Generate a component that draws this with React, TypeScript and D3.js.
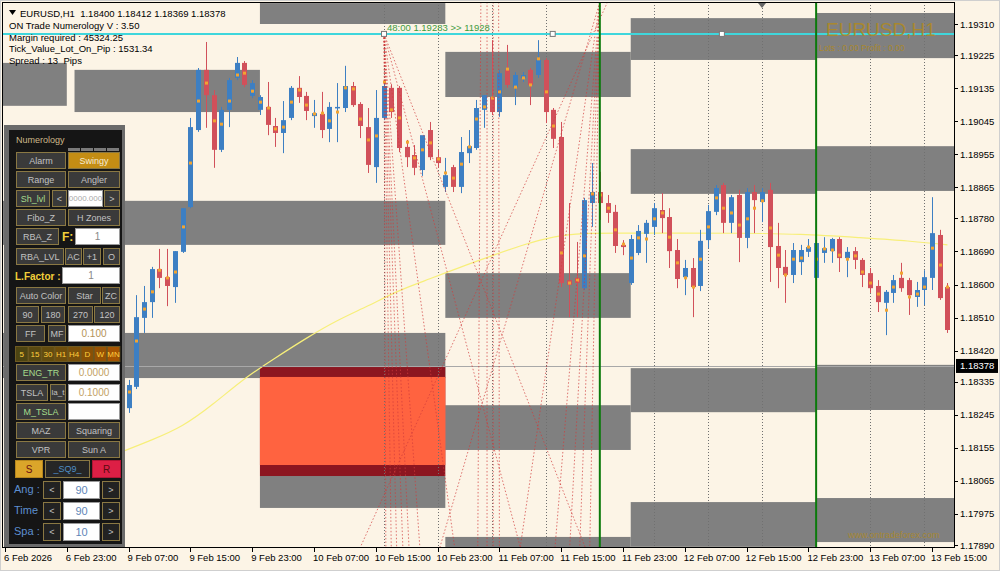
import React from "react";
import * as d3 from "d3";

// ---------- DATA ----------
const firstBar = 15;
const opens = [
  1.17991, 1.18263, 1.18321, 1.18509, 1.18552, 1.18642, 1.18620, 1.18593, 1.18689, 1.18811,
  1.19021, 1.19185, 1.19116, 1.18967, 1.19076, 1.19163, 1.19204, 1.19114, 1.19076, 1.19084,
  1.19032, 1.19013, 1.19054, 1.19136, 1.19114, 1.19059, 1.19065, 1.19024, 1.19081, 1.19081,
  1.19141, 1.19092, 1.19029, 1.18920, 1.19054, 1.19136, 1.19136, 1.18975, 1.18953, 1.18912,
  1.19021, 1.18947, 1.18866, 1.18920, 1.18866, 1.18958, 1.18972, 1.19076, 1.19111, 1.19070,
  1.19185, 1.19138, 1.19163, 1.19185, 1.19171, 1.19212, 1.19076, 1.19002, 1.18612, 1.18618,
  1.18590, 1.18822, 1.18852, 1.18822, 1.18798, 1.18708, 1.18604, 1.18686, 1.18738, 1.18757,
  1.18803, 1.18784, 1.18694, 1.18620, 1.18645, 1.18596, 1.18721, 1.18798, 1.18871, 1.18768,
  1.18844, 1.18727, 1.18852, 1.18825, 1.18858, 1.18705, 1.18648, 1.18626, 1.18661, 1.18689,
  1.18618, 1.18686, 1.18691, 1.18724, 1.18672, 1.18691, 1.18667, 1.18631, 1.18596, 1.18550,
  1.18577, 1.18618, 1.18612, 1.18566, 1.18585, 1.18618, 1.18735, 1.18593,
];
const highs = [
  1.18116, 1.18340, 1.18571, 1.18596, 1.18648, 1.18697, 1.18697, 1.18691, 1.18808, 1.19054,
  1.19190, 1.19261, 1.19130, 1.19084, 1.19163, 1.19220, 1.19209, 1.19157, 1.19116, 1.19152,
  1.19054, 1.19100, 1.19141, 1.19168, 1.19125, 1.19103, 1.19125, 1.19097, 1.19149, 1.19196,
  1.19152, 1.19097, 1.19081, 1.19130, 1.19152, 1.19146, 1.19141, 1.18994, 1.18980, 1.18994,
  1.19043, 1.18967, 1.18945, 1.18926, 1.19002, 1.19021, 1.19103, 1.19116, 1.19266, 1.19185,
  1.19253, 1.19179, 1.19179, 1.19190, 1.19266, 1.19217, 1.19081, 1.19043, 1.18822, 1.18716,
  1.18836, 1.18931, 1.18907, 1.18844, 1.18817, 1.18721, 1.18735, 1.18762, 1.18776, 1.18822,
  1.18849, 1.18808, 1.18724, 1.18667, 1.18672, 1.18749, 1.18817, 1.18871, 1.18877, 1.18844,
  1.18858, 1.18863, 1.18871, 1.18863, 1.18877, 1.18768, 1.18694, 1.18713, 1.18708, 1.18724,
  1.18721, 1.18729, 1.18727, 1.18729, 1.18702, 1.18702, 1.18672, 1.18645, 1.18612, 1.18585,
  1.18626, 1.18659, 1.18618, 1.18607, 1.18639, 1.18838, 1.18749, 1.18604,
];
const lows = [
  1.17980, 1.18250, 1.18315, 1.18468, 1.18509, 1.18590, 1.18541, 1.18550, 1.18686, 1.18808,
  1.19016, 1.19027, 1.18918, 1.18961, 1.19029, 1.19157, 1.19138, 1.19108, 1.19062, 1.19007,
  1.18975, 1.18958, 1.19048, 1.19095, 1.19048, 1.19027, 1.18999, 1.18988, 1.18988, 1.19070,
  1.19084, 1.18999, 1.18904, 1.18877, 1.19048, 1.19054, 1.18961, 1.18920, 1.18898, 1.18896,
  1.18939, 1.18918, 1.18852, 1.18852, 1.18849, 1.18931, 1.18967, 1.19027, 1.19062, 1.19057,
  1.19136, 1.19089, 1.19152, 1.19089, 1.19163, 1.19040, 1.18972, 1.18593, 1.18511, 1.18511,
  1.18585, 1.18757, 1.18776, 1.18768, 1.18686, 1.18680, 1.18599, 1.18680, 1.18659, 1.18735,
  1.18740, 1.18645, 1.18590, 1.18571, 1.18511, 1.18582, 1.18699, 1.18789, 1.18740, 1.18740,
  1.18661, 1.18699, 1.18740, 1.18770, 1.18607, 1.18590, 1.18550, 1.18604, 1.18626, 1.18675,
  1.18612, 1.18659, 1.18659, 1.18634, 1.18620, 1.18642, 1.18593, 1.18577, 1.18525, 1.18462,
  1.18550, 1.18580, 1.18517, 1.18539, 1.18544, 1.18585, 1.18558, 1.18468,
];
const closes = [
  1.18094, 1.18326, 1.18511, 1.18552, 1.18642, 1.18618, 1.18596, 1.18691, 1.18808, 1.19029,
  1.19185, 1.19116, 1.18967, 1.19076, 1.19157, 1.19204, 1.19144, 1.19149, 1.19111, 1.19035,
  1.19013, 1.19048, 1.19136, 1.19111, 1.19073, 1.19067, 1.19021, 1.19084, 1.19084, 1.19141,
  1.19089, 1.19032, 1.18926, 1.19054, 1.19141, 1.19070, 1.18972, 1.18947, 1.18918, 1.19007,
  1.18947, 1.18931, 1.18898, 1.18866, 1.18961, 1.18977, 1.19081, 1.19116, 1.19070, 1.19176,
  1.19144, 1.19171, 1.19171, 1.19144, 1.19212, 1.19070, 1.18997, 1.18604, 1.18599, 1.18604,
  1.18830, 1.18852, 1.18822, 1.18795, 1.18705, 1.18702, 1.18724, 1.18746, 1.18768, 1.18808,
  1.18781, 1.18691, 1.18615, 1.18645, 1.18593, 1.18719, 1.18800, 1.18863, 1.18768, 1.18838,
  1.18727, 1.18852, 1.18830, 1.18852, 1.18702, 1.18645, 1.18626, 1.18694, 1.18694, 1.18702,
  1.18713, 1.18699, 1.18724, 1.18672, 1.18689, 1.18667, 1.18626, 1.18590, 1.18552, 1.18580,
  1.18612, 1.18590, 1.18571, 1.18585, 1.18620, 1.18740, 1.18563, 1.18476,
];
const markers = [
  1.18040, 1.18307, 1.18446, 1.18533, 1.18580, 1.18639, 1.18618, 1.18634, 1.18757, 1.18931,
  1.19100, 1.19149, 1.19046, 1.19037, 1.19100, 1.19171, 1.19176, 1.19127, 1.19097, 1.19081,
  1.19024, 1.19029, 1.19097, 1.19130, 1.19089, 1.19065, 1.19067, 1.19046, 1.19070, 1.19136,
  1.19133, 1.19051, 1.18994, 1.19005, 1.19152, 1.19076, 1.19054, 1.18988, 1.18945, 1.18967,
  1.18986, 1.18942, 1.18904, 1.18890, 1.18928, 1.18975, 1.19051, 1.19084, 1.19108, 1.19125,
  1.19187, 1.19138, 1.19163, 1.19144, 1.19215, 1.19125, 1.19032, 1.18686, 1.18604, 1.18612,
  1.18678, 1.18847, 1.18844, 1.18808, 1.18749, 1.18710, 1.18672, 1.18727, 1.18724, 1.18779,
  1.18795, 1.18729, 1.18659, 1.18618, 1.18593, 1.18669, 1.18757, 1.18836, 1.18808, 1.18795,
  1.18762, 1.18779, 1.18808, 1.18828, 1.18754, 1.18680, 1.18626, 1.18669, 1.18672, 1.18702,
  1.18669, 1.18697, 1.18694, 1.18680, 1.18669, 1.18678, 1.18634, 1.18604, 1.18574, 1.18530,
  1.18593, 1.18631, 1.18566, 1.18574, 1.18593, 1.18699, 1.18653, 1.18593,
];

// moving average (bar index, value)
const maBars = [15, 19, 23, 27, 31, 35, 39, 43, 47, 51, 55, 59, 63, 67, 71, 75, 79, 87, 95, 103, 111, 117, 122];
const maValues = [
  1.18143, 1.18176, 1.18212, 1.18274, 1.18345, 1.18400, 1.18454, 1.18503, 1.18541, 1.18585,
  1.18615, 1.18648, 1.18678, 1.18708, 1.18732, 1.18740, 1.18740, 1.18740, 1.18740, 1.18738,
  1.18727, 1.18719, 1.18708,
];

// price zones: [startBar, endBar, top, bottom]
const grayZones: number[][] = [
  [-0.4, 8, 1.19204, 1.19087],
  [9, 33, 1.19185, 1.19070],
  [33, 57, 1.19367, 1.19310],
  [57, 81, 1.19234, 1.19111],
  [81, 105, 1.19326, 1.19212],
  [105, 124, 1.19340, 1.19217],
  [-0.4, 57, 1.18828, 1.18708],
  [57, 81, 1.18631, 1.18509],
  [81, 105, 1.18969, 1.18847],
  [105, 124, 1.18977, 1.18855],
  [-0.4, 57, 1.18468, 1.18345],
  [33, 57, 1.18078, 1.17991],
  [57, 81, 1.18271, 1.18149],
  [81, 105, 1.18372, 1.18252],
  [105, 124, 1.18381, 1.18258],
  [57, 81, 1.17912, 1.17850],
  [81, 105, 1.18007, 1.17885],
  [105, 124, 1.18018, 1.17898],
];
const redZoneOuter = [33, 57, 1.18375, 1.18078];
const redZoneInner = [33, 57, 1.18348, 1.18108];

// angle lines [bar1, price1, bar2, price2]
const angleLines: number[][] = [
  [49.06, 1.19283, 49.3, 1.17884],
  [49.06, 1.19283, 50.0, 1.17884],
  [49.06, 1.19283, 50.7, 1.17884],
  [49.06, 1.19283, 51.5, 1.17884],
  [49.06, 1.19283, 52.3, 1.17884],
  [49.06, 1.19283, 53.7, 1.17884],
  [49.06, 1.19283, 58.2, 1.17884],
  [49.06, 1.19283, 66.7, 1.17884],
  [49.06, 1.19283, 75.1, 1.17884],
  [77.0, 1.19370, 75.7, 1.17884],
  [77.0, 1.19370, 74.4, 1.17884],
  [77.0, 1.19370, 73.1, 1.17884],
  [77.0, 1.19370, 71.2, 1.17884],
  [77.0, 1.19370, 66.7, 1.17884],
  [77.0, 1.19370, 56.3, 1.17884],
  [78.0, 1.19370, 46.0, 1.17884],
  [61.6, 1.19370, 61.2, 1.17884],
  [62.4, 1.19370, 62.4, 1.17884],
  [63.2, 1.19370, 63.2, 1.17884],
  [63.9, 1.19370, 64.0, 1.17884],
];

const levelPrice = 1.19283;
const levelHandles = [49.06, 70.9, 92.8];
const currentPrice = 1.18378;
const dottedBars = [49, 56, 63, 70, 84, 91, 98, 112, 119];
const greenBars = [77, 105];

const timeTickBars = [0, 8, 16, 24, 32, 40, 48, 56, 64, 72, 80, 88, 96, 104, 112, 120];
const timeTickLabels = [
  "6 Feb 2026", "6 Feb 23:00", "9 Feb 07:00", "9 Feb 15:00", "9 Feb 23:00", "10 Feb 07:00",
  "10 Feb 15:00", "10 Feb 23:00", "11 Feb 07:00", "11 Feb 15:00", "11 Feb 23:00", "12 Feb 07:00",
  "12 Feb 15:00", "12 Feb 23:00", "13 Feb 07:00", "13 Feb 15:00",
];
const priceTicks = [
  1.19310, 1.19225, 1.19135, 1.19045, 1.18955, 1.18865, 1.18780, 1.18690, 1.18600,
  1.18510, 1.18420, 1.18335, 1.18245, 1.18155, 1.18065, 1.17975, 1.17890,
];

const infoLines = [
  "ON Trade Numerology V : 3.50",
  "Margin required : 45324.25",
  "Tick_Value_Lot_On_Pip : 1531.34",
  "Spread : 13  Pips",
];
const tfLabels = ["5", "15", "30", "H1", "H4", "D", "W", "MN"];

// ---------- STYLE ----------
const FONT = "'Liberation Sans', Arial, sans-serif";
const BG = "#FCF4E6";
const BULL = "#3D7FC3";
const BEAR = "#D1505A";
const DOT = "#F2A431";
const ZONE = "#808080";

type BtnProps = {
  x: number; y: number; w: number; h?: number; label: string;
  fill?: string; stroke?: string; color?: string; fs?: number; bold?: boolean;
};
function Btn({ x, y, w, h = 16, label, fill = "#3a3a3a", stroke = "#8a7843", color = "#c2c2c2", fs = 9, bold = false }: BtnProps) {
  return (
    <g>
      <rect x={x + 0.5} y={y + 0.5} width={w} height={h} fill={fill} stroke={stroke} strokeWidth={1} />
      <text x={x + w / 2 + 0.5} y={y + h / 2 + fs * 0.36 + 0.5} textAnchor="middle" fontSize={fs}
        fill={color} fontWeight={bold ? "bold" : "normal"}>{label}</text>
    </g>
  );
}
function Input({ x, y, w, h = 16, value, color = "#888", fs = 10 }: { x: number; y: number; w: number; h?: number; value: string; color?: string; fs?: number }) {
  return (
    <g>
      <rect x={x + 0.5} y={y + 0.5} width={w} height={h} fill="#ffffff" stroke="#9a9a9a" />
      <text x={x + w / 2 + 0.5} y={y + h / 2 + fs * 0.36 + 0.5} textAnchor="middle" fontSize={fs} fill={color}>{value}</text>
    </g>
  );
}

function Panel() {
  const tfFills = ["#4d4412", "#584811", "#634c0f", "#6e4e0c", "#7b5009", "#885106", "#965204", "#a55402"];
  const stepRows = [
    { label: "Ang :", y: 481, v: "90" },
    { label: "Time", y: 502, v: "90" },
    { label: "Spa :", y: 523, v: "10" },
  ];
  return (
    <g fontFamily={FONT}>
      <rect x={4} y={125} width={121} height={422} fill="#6b6b6b" />
      <rect x={9} y={130} width={113} height={414} fill="#151515" />
      <text x={16} y={143} fontSize={9} fill="#cdb98a">Numerology</text>
      {[68, 81, 94, 107].map((tx) => (
        <rect key={tx} x={tx} y={148} width={12} height={3} fill="#7a7a7a" />
      ))}
      <Btn x={16} y={152} w={49} label="Alarm" />
      <Btn x={68} y={152} w={51} label="Swingy" fill="#c48d14" color="#f6ecd2" />
      <Btn x={16} y={171} w={49} label="Range" />
      <Btn x={68} y={171} w={51} label="Angler" />
      <Btn x={16} y={190} w={33} label="Sh_lvl" color="#a6dc8c" />
      <Btn x={52} y={190} w={14} label="<" />
      <Input x={68} y={190} w={34} value="0000.000" color="#aaaaaa" fs={8} />
      <Btn x={104} y={190} w={15} label=">" />
      <Btn x={16} y={209} w={49} label="Fibo_Z" />
      <Btn x={68} y={209} w={51} label="H Zones" />
      <Btn x={16} y={228} w={42} label="RBA_Z" />
      <text x={62} y={241} fontSize={12} fontWeight="bold" fill="#f2cf3a">F:</text>
      <Input x={75} y={228} w={44} value="1" />
      <Btn x={16} y={248} w={47} label="RBA_LVL" />
      <Btn x={65} y={248} w={16} label="AC" />
      <Btn x={83} y={248} w={17} label="+1" />
      <Btn x={103} y={248} w={16} label="O" />
      <text x={15} y={279.5} fontSize={10} fontWeight="bold" fill="#f2cf3a">L.Factor :</text>
      <Input x={62} y={267} w={57} value="1" />
      <Btn x={16} y={287} w={49} label="Auto Color" />
      <Btn x={68} y={287} w={32} label="Star" />
      <Btn x={102} y={287} w={17} label="ZC" />
      <Btn x={16} y={306} w={22} label="90" />
      <Btn x={41} y={306} w={23} label="180" />
      <Btn x={68} y={306} w={24} label="270" />
      <Btn x={94} y={306} w={25} label="120" />
      <Btn x={16} y={325} w={28} label="FF" />
      <Btn x={48} y={325} w={17} label="MF" />
      <Input x={68} y={325} w={51} value="0.100" color="#b49356" />
      {tfLabels.map((t, i) => (
        <Btn key={t} x={15 + i * 13.1} y={346} w={12.6} h={15} label={t} fill={tfFills[i]}
          stroke="#6e5a22" color="#ffcf3f" fs={8} />
      ))}
      <Btn x={16} y={364} w={49} label="ENG_TR" color="#a6dc8c" />
      <Input x={68} y={364} w={51} value="0.0000" color="#c3a264" />
      <Btn x={16} y={384} w={31} label="TSLA" />
      <Btn x={50} y={384} w={15} label="la_t" fs={8} />
      <Input x={68} y={384} w={51} value="0.1000" color="#c3a264" />
      <Btn x={16} y={403} w={49} label="M_TSLA" color="#a6dc8c" />
      <Input x={68} y={403} w={51} value="" />
      <Btn x={16} y={422} w={49} label="MAZ" />
      <Btn x={68} y={422} w={51} label="Squaring" />
      <Btn x={16} y={441} w={49} label="VPR" />
      <Btn x={68} y={441} w={51} label="Sun A" />
      <Btn x={15} y={460} w={27} h={17} label="S" fill="#dba52a" stroke="#b5861e" color="#6d1010" fs={10} />
      <Btn x={45} y={460} w={44} h={17} label="_SQ9_" fill="#262626" color="#4f8fc6" />
      <Btn x={92} y={460} w={28} h={17} label="R" fill="#dd1f45" stroke="#b01535" color="#5a0a10" fs={10} />
      {stepRows.map((r) => (
        <g key={r.label}>
          <text x={14} y={r.y + 12} fontSize={11} fill="#5d8fd0">{r.label}</text>
          <Btn x={43} y={r.y} w={17} h={17} label="<" fill="#222" />
          <Input x={63} y={r.y} w={36} h={17} value={r.v} color="#5f86b8" fs={11} />
          <Btn x={102} y={r.y} w={17} h={17} label=">" fill="#222" />
        </g>
      ))}
    </g>
  );
}

export default function App() {
  const xs = d3.scaleLinear().domain([0, 120]).range([5, 932]);
  const ys = d3.scaleLinear().domain([1.17890, 1.19310]).range([545, 24]);
  const left = 2, right = 954, top = 2, bottom = 547;

  const maLine = d3.line<number>()
    .x((_, i) => xs(maBars[i]))
    .y((v) => ys(v))
    .curve(d3.curveBasis)(maValues) || "";

  const zoneRect = (z: number[], fill: string, key: string) => {
    const x0 = xs(z[0]), x1 = xs(z[1]);
    const y0 = ys(z[2]), y1 = ys(z[3]);
    return <rect key={key} x={x0} y={y0} width={x1 - x0} height={y1 - y0} fill={fill} />;
  };

  return (
    <svg width={1000} height={571} style={{ position: "absolute", left: 0, top: 0, display: "block" }}
      fontFamily={FONT}>
      <defs>
        <clipPath id="plotClip">
          <rect x={left} y={top} width={right - left} height={bottom - top} />
        </clipPath>
      </defs>
      <rect x={0} y={0} width={1000} height={571} fill={BG} />

      <g clipPath="url(#plotClip)">
        {grayZones.map((z, i) => zoneRect(z, ZONE, "gz" + i))}
        {zoneRect(redZoneOuter, "#8c1620", "rzo")}
        {zoneRect(redZoneInner, "#ff6340", "rzi")}

        {dottedBars.map((b) => (
          <line key={"dv" + b} x1={Math.round(xs(b)) + 0.5} x2={Math.round(xs(b)) + 0.5} y1={top} y2={bottom}
            stroke="#707070" strokeWidth={1} strokeDasharray="1 2" />
        ))}

        <path d={maLine} fill="none" stroke="#f7ef7a" strokeWidth={1.2} />

        <line x1={left} x2={right} y1={Math.round(ys(currentPrice)) + 0.5} y2={Math.round(ys(currentPrice)) + 0.5}
          stroke="#a8a8a8" strokeWidth={1} />

        {opens.map((o, k) => {
          const c = closes[k];
          const cx = Math.round(xs(firstBar + k));
          const col = c >= o ? BULL : BEAR;
          const yTop = ys(Math.max(o, c));
          const yBot = ys(Math.min(o, c));
          return (
            <g key={"c" + k}>
              <line x1={cx + 0.5} x2={cx + 0.5} y1={ys(highs[k])} y2={ys(lows[k])} stroke={col} strokeWidth={1} />
              <rect x={cx - 2} y={yTop} width={5} height={Math.max(1.5, yBot - yTop)} fill={col} />
              <rect x={cx - 1} y={ys(markers[k]) - 1.5} width={3} height={3} fill={DOT} />
            </g>
          );
        })}

        {angleLines.map((l, i) => (
          <line key={"al" + i} x1={xs(l[0])} y1={ys(l[1])} x2={xs(l[2])} y2={ys(l[3])}
            stroke="#d23c3c" strokeWidth={1} strokeDasharray="1.5 2" opacity={0.7} />
        ))}

        <line x1={left} x2={right} y1={ys(levelPrice)} y2={ys(levelPrice)} stroke="#3fd6dc" strokeWidth={2} />
        {levelHandles.map((b) => (
          <rect key={"h" + b} x={xs(b) - 2.5} y={ys(levelPrice) - 2.5} width={5} height={5}
            fill="#ffffff" stroke="#777" strokeWidth={1} />
        ))}
        <text x={387} y={31} fontSize={9.5} fill="#3e9b3e">48:00  1.19283 &gt;&gt; 11928</text>

        {greenBars.map((b) => (
          <line key={"gv" + b} x1={xs(b)} x2={xs(b)} y1={top} y2={bottom} stroke="#0b7a0b" strokeWidth={2} />
        ))}

        <text x={826} y={36} fontSize={19} fill="#b08a22" opacity={0.85}>EURUSD,H1</text>
        <text x={819} y={51} fontSize={8.5} fill="#b08a22" opacity={0.85}>Lots : 0.00   Profit : 0.00</text>
        <text x={848} y={538} fontSize={9} fill="#b08a22" opacity={0.8}>www.ontradeforex.com</text>
        <polygon points="758,3 766,3 762,8" fill="#666" />
      </g>

      {/* frame */}
      <rect x={left + 0.5} y={top + 0.5} width={right - left} height={bottom - top} fill="none" stroke="#000" strokeWidth={1} />

      {/* price axis */}
      {priceTicks.map((p) => (
        <g key={"pt" + p}>
          <line x1={right} x2={right + 4} y1={Math.round(ys(p)) + 0.5} y2={Math.round(ys(p)) + 0.5} stroke="#000" />
          <text x={960} y={ys(p) + 3.5} fontSize={9.5} fill="#000">{p.toFixed(5)}</text>
        </g>
      ))}
      <rect x={956} y={ys(currentPrice) - 7} width={42} height={14} fill="#000" />
      <text x={960} y={ys(currentPrice) + 3.5} fontSize={9.5} fill="#fff">{currentPrice.toFixed(5)}</text>

      {/* time axis */}
      {timeTickBars.map((b, i) => (
        <g key={"tt" + b}>
          <line x1={Math.round(xs(b)) + 0.5} x2={Math.round(xs(b)) + 0.5} y1={bottom} y2={bottom + 5} stroke="#000" />
          <text x={xs(b) - 1} y={561} fontSize={9.5} fill="#000">{timeTickLabels[i]}</text>
        </g>
      ))}

      {/* info text */}
      <polygon points="9,10 16,10 12.5,15" fill="#000" />
      <text x={20} y={17} fontSize={9.5} fill="#000" xmlSpace="preserve">EURUSD,H1  1.18400 1.18412 1.18369 1.18378</text>
      {infoLines.map((t, i) => (
        <text key={t} x={9} y={29 + i * 11.5} fontSize={9.5} fill="#000" xmlSpace="preserve">{t}</text>
      ))}

      <Panel />

      <rect x={0.5} y={0.5} width={999} height={570} fill="none" stroke="#cfcfcf" />
    </svg>
  );
}
